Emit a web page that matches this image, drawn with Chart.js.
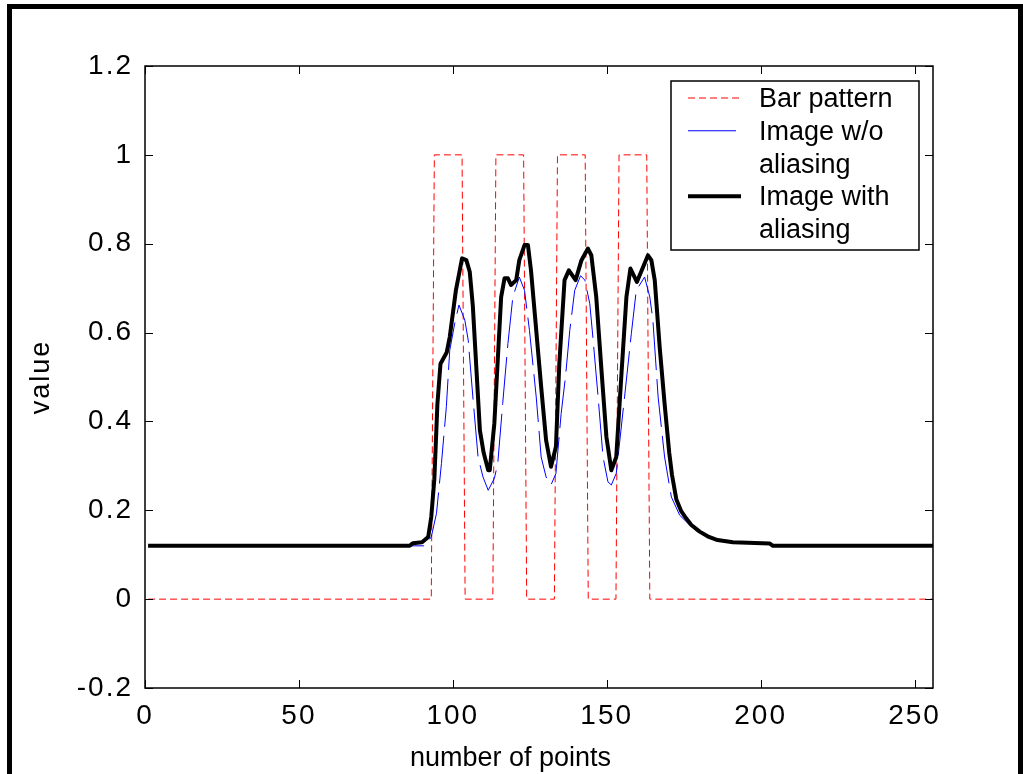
<!DOCTYPE html>
<html><head><meta charset="utf-8">
<script src="https://cdn.jsdelivr.net/npm/chart.js@4/dist/chart.umd.min.js"></script>
<style>html,body{margin:0;padding:0;background:#fff;}canvas{display:block;}</style>
</head><body>
<canvas id="c" width="1023" height="774"></canvas>
<script>
const xTickValues = [0, 50, 100, 150, 200, 250];
const yTickValues = [-0.2, 0, 0.2, 0.4, 0.6, 0.8, 1, 1.2];
const xTitle = "number of points";
const yTitle = "value";
const seriesNames = [["Bar pattern"], ["Image w/o", "aliasing"], ["Image with", "aliasing"]];

const barX = [1, 93, 94, 103, 104, 113, 114, 123, 124, 133, 134, 143, 144, 153, 154, 163, 164, 256];
const barY = [0, 0, 1, 1, 0, 0, 1, 1, 0, 0, 1, 1, 0, 0, 1, 1, 0, 0];

const woX = [1, 91, 93, 94.7, 96.3, 97.9, 99, 100.6, 102, 103.9, 105, 106.6, 108.2, 109.8, 111.5, 113.5, 114.6, 116.2, 117.9, 119.5, 121.6, 123.3, 124.9, 127.1, 128.7, 130.3, 131.9, 133.5, 135.2, 136.6, 138, 139.6, 141.5, 142.9, 144.5, 145.5, 147.2, 148.8, 150.4, 151.5, 153.1, 155.8, 158, 159.6, 162.3, 164, 165, 166.7, 168.8, 171, 173.7, 176.9, 180.2, 183.4, 187, 195, 203, 204, 256];
const woY = [0.12, 0.12, 0.14, 0.193, 0.305, 0.433, 0.56, 0.62, 0.662, 0.628, 0.583, 0.448, 0.32, 0.275, 0.245, 0.272, 0.305, 0.44, 0.575, 0.68, 0.725, 0.695, 0.605, 0.455, 0.32, 0.275, 0.257, 0.283, 0.418, 0.5, 0.605, 0.695, 0.728, 0.718, 0.665, 0.59, 0.455, 0.32, 0.264, 0.257, 0.283, 0.455, 0.598, 0.695, 0.725, 0.68, 0.628, 0.455, 0.32, 0.23, 0.189, 0.167, 0.148, 0.138, 0.132, 0.127, 0.125, 0.12, 0.12];

const withX = [1, 86, 87, 90, 92, 93, 94, 95, 96, 98, 99, 101, 103, 104.4, 105.5, 106.5, 108.8, 110, 111.5, 112, 113.5, 115.7, 116.8, 117.9, 118.9, 120.6, 121.6, 123.3, 124.4, 125.4, 128.7, 130.3, 131.9, 133.5, 134.6, 136.3, 137.7, 139.9, 141.8, 143.9, 145, 146.6, 148.3, 149.9, 151.5, 153.1, 154.8, 156.4, 157.7, 159.8, 163.4, 164.5, 165.6, 167.2, 168.8, 170.3, 171.2, 172.6, 174.2, 175.8, 177.5, 180.2, 183.2, 186, 191, 203, 204, 256];
const withY = [0.12, 0.12, 0.126, 0.128, 0.14, 0.185, 0.27, 0.44, 0.53, 0.555, 0.59, 0.695, 0.767, 0.763, 0.737, 0.66, 0.38, 0.33, 0.29, 0.29, 0.396, 0.68, 0.722, 0.722, 0.707, 0.718, 0.763, 0.797, 0.797, 0.74, 0.478, 0.358, 0.298, 0.343, 0.53, 0.718, 0.74, 0.718, 0.763, 0.789, 0.774, 0.68, 0.515, 0.365, 0.29, 0.32, 0.508, 0.68, 0.744, 0.714, 0.774, 0.763, 0.718, 0.568, 0.44, 0.33, 0.28, 0.225, 0.198, 0.182, 0.167, 0.152, 0.14, 0.133, 0.128, 0.125, 0.12, 0.12];

function pts(xs, ys) { return xs.map((x, i) => ({ x: x, y: ys[i] })); }

const FONT = "'Liberation Sans', Arial, sans-serif";

const framePlugin = {
  id: 'frame',
  beforeDraw(chart) { chart.ctx.letterSpacing = '2px'; },
  beforeDatasetsDraw(chart) { chart.ctx.letterSpacing = '0px'; },
  afterDraw(chart) {
    const ctx = chart.ctx, a = chart.chartArea, xs = chart.scales.x, ys = chart.scales.y;
    ctx.save();
    ctx.letterSpacing = '0px';
    ctx.strokeStyle = '#000';
    // ticks (inward, all four sides)
    const tl = 8;
    ctx.lineWidth = 1;
    ctx.beginPath();
    xTickValues.forEach(v => {
      const px = Math.round(xs.getPixelForValue(v)) + 0.5;
      ctx.moveTo(px, a.bottom); ctx.lineTo(px, a.bottom - tl);
      ctx.moveTo(px, a.top); ctx.lineTo(px, a.top + tl);
    });
    yTickValues.forEach(v => {
      const py = Math.round(ys.getPixelForValue(v)) + 0.5;
      ctx.moveTo(a.left, py); ctx.lineTo(a.left + tl, py);
      ctx.moveTo(a.right, py); ctx.lineTo(a.right - tl, py);
    });
    ctx.stroke();
    // axes box
    ctx.lineWidth = 1.5;
    ctx.strokeRect(a.left, a.top, a.right - a.left, a.bottom - a.top);

    // legend
    const lx = 671, ly = 81, lw = 248, lh = 169;
    ctx.fillStyle = '#fff';
    ctx.fillRect(lx, ly, lw, lh);
    ctx.lineWidth = 1.5;
    ctx.strokeRect(lx, ly, lw, lh);
    ctx.font = '27px ' + FONT;
    ctx.fillStyle = '#000';
    ctx.textAlign = 'left';
    ctx.textBaseline = 'alphabetic';
    let k = 0;
    const base0 = 107, step = 32.75;
    chart.data.datasets.forEach((ds, i) => {
      const lines = seriesNames[i];
      const by = base0 + k * step;
      ctx.save();
      ctx.strokeStyle = ds.borderColor;
      ctx.lineWidth = ds.borderWidth;
      ctx.setLineDash(ds.borderDash || []);
      ctx.beginPath();
      ctx.moveTo(688, by - 9); ctx.lineTo(741, by - 9);
      ctx.stroke();
      ctx.restore();
      lines.forEach((t, j) => { ctx.fillText(t, 759, base0 + (k + j) * step); });
      k += lines.length;
    });

    // x title
    ctx.font = '27px ' + FONT;
    ctx.textAlign = 'left';
    ctx.textBaseline = 'alphabetic';
    ctx.fillText(xTitle, 410, 766);

    // outer figure frame
    ctx.lineWidth = 5;
    ctx.strokeStyle = '#000';
    ctx.beginPath();
    ctx.moveTo(9.5, 800); ctx.lineTo(9.5, 6.5); ctx.lineTo(1020.5, 6.5); ctx.lineTo(1020.5, 800);
    ctx.stroke();
    ctx.restore();
  }
};

new Chart(document.getElementById('c'), {
  type: 'line',
  data: {
    datasets: [
      { label: seriesNames[0].join(' '), data: pts(barX, barY), borderColor: '#ff0000', borderWidth: 1, borderDash: [7, 4], order: 3 },
      { label: seriesNames[1].join(' '), data: pts(woX, woY), borderColor: '#0000ff', borderWidth: 1, borderDash: [48, 9], order: 2 },
      { label: seriesNames[2].join(' '), data: pts(withX, withY), borderColor: '#000000', borderWidth: 4, order: 1 }
    ]
  },
  options: {
    responsive: false,
    animation: false,
    devicePixelRatio: 1,
    layout: { padding: { top: 66, right: 90, bottom: 0, left: 0 } },
    elements: { point: { radius: 0 }, line: { tension: 0, borderJoinStyle: 'round', borderCapStyle: 'butt' } },
    plugins: { legend: { display: false }, tooltip: { enabled: false } },
    scales: {
      x: {
        type: 'linear', min: 0, max: 256,
        grid: { display: false, drawTicks: false },
        border: { display: false },
        afterBuildTicks: s => { s.ticks = xTickValues.map(v => ({ value: v })); },
        afterFit: s => { s.height = 86; },
        ticks: { padding: 11, color: '#000', font: { family: FONT, size: 28 }, maxRotation: 0, autoSkip: false, callback: v => String(v) }
      },
      y: {
        type: 'linear', min: -0.2, max: 1.2,
        grid: { display: false, drawTicks: false },
        border: { display: false },
        afterBuildTicks: s => { s.ticks = yTickValues.map(v => ({ value: v })); },
        afterFit: s => { s.width = 145; },
        ticks: { padding: 12, color: '#000', font: { family: FONT, size: 28 }, autoSkip: false, callback: v => String(Number(v.toFixed(1))) },
        title: { display: true, text: yTitle, color: '#000', font: { family: FONT, size: 27 }, padding: { top: 25, bottom: 0 } }
      }
    }
  },
  plugins: [framePlugin]
});
</script>
</body></html>
